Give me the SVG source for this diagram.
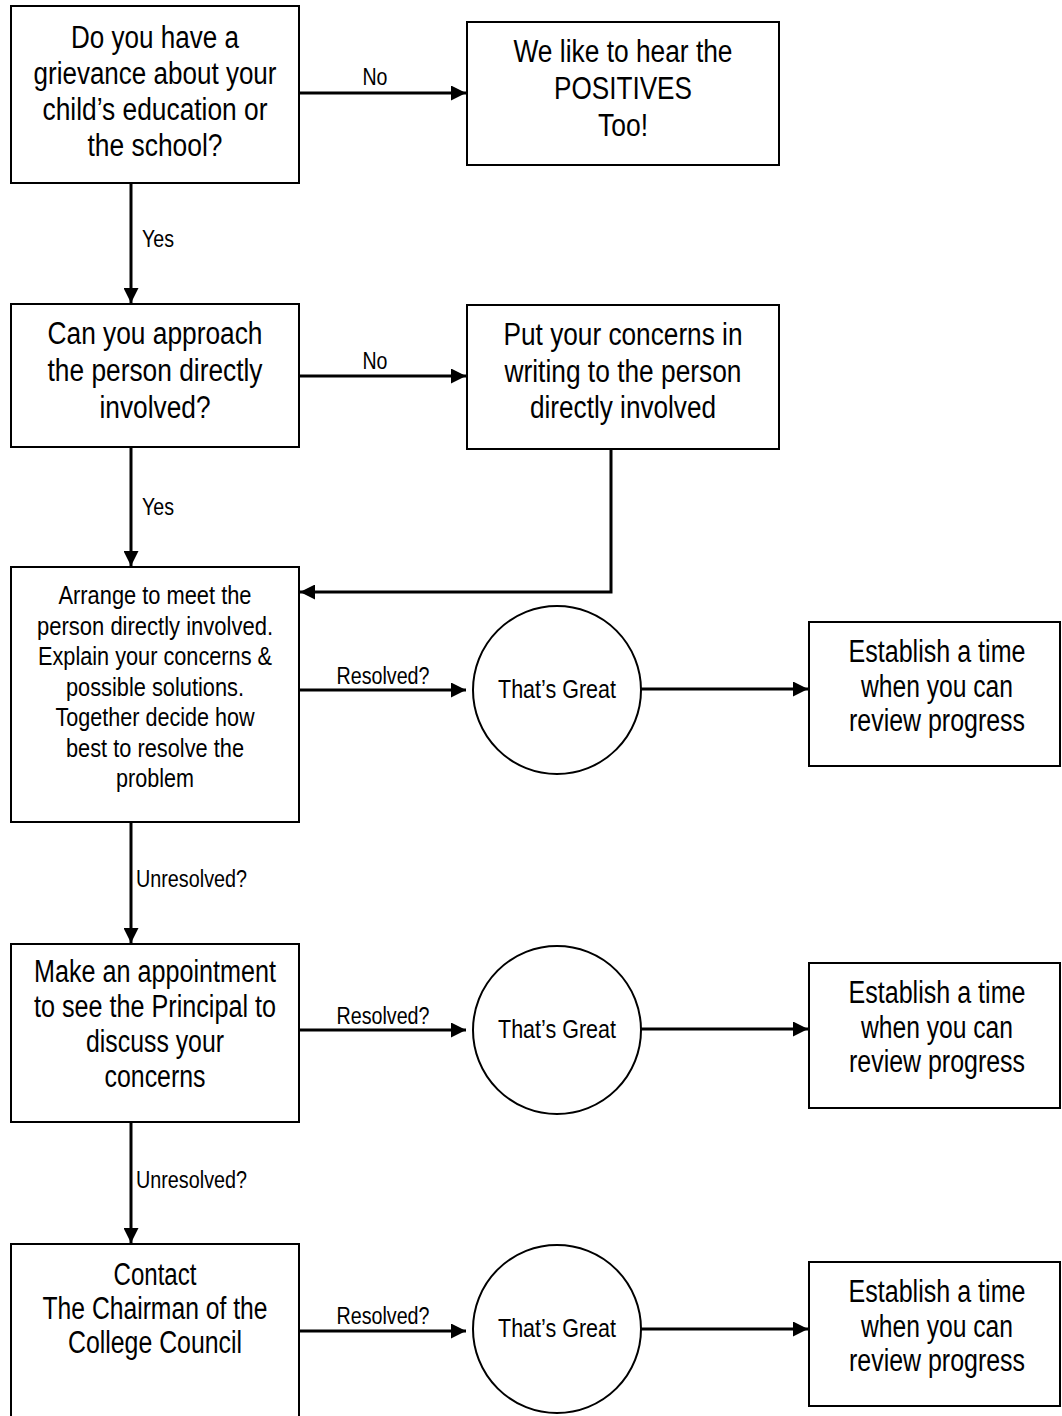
<svg xmlns="http://www.w3.org/2000/svg" width="1062" height="1416" viewBox="0 0 1062 1416">
<style>
.box{fill:#fff;stroke:#000;stroke-width:2}
text{font-family:"Liberation Sans",Arial,sans-serif;fill:#000;text-anchor:middle}
.big{font-size:31px}
.mid{font-size:26px}
.lbl{font-size:23.5px}
.ls{text-anchor:start}
.c{fill:none;stroke:#000;stroke-width:3}
</style>
<defs>
<marker id="ah" viewBox="0 0 10 10" refX="10" refY="5" markerWidth="5" markerHeight="5" markerUnits="strokeWidth" orient="auto">
<path d="M0,0 L10,5 L0,10 z" fill="#000"/>
</marker>
</defs>
<g id="connectors">
<line class="c" x1="299" y1="93" x2="466" y2="93" marker-end="url(#ah)"/>
<text class="lbl" x="375" y="85" textLength="25" lengthAdjust="spacingAndGlyphs">No</text>
<line class="c" x1="131" y1="184" x2="131" y2="303" marker-end="url(#ah)"/>
<text class="lbl ls" x="142" y="247" textLength="32" lengthAdjust="spacingAndGlyphs">Yes</text>
<line class="c" x1="299" y1="376" x2="466" y2="376" marker-end="url(#ah)"/>
<text class="lbl" x="375" y="369" textLength="25" lengthAdjust="spacingAndGlyphs">No</text>
<line class="c" x1="131" y1="448" x2="131" y2="566" marker-end="url(#ah)"/>
<text class="lbl ls" x="142" y="515" textLength="32" lengthAdjust="spacingAndGlyphs">Yes</text>
<polyline class="c" points="611,450 611,592 300,592" marker-end="url(#ah)"/>
<line class="c" x1="299" y1="690" x2="466" y2="690" marker-end="url(#ah)"/>
<text class="lbl" x="383" y="684" textLength="93" lengthAdjust="spacingAndGlyphs">Resolved?</text>
<line class="c" x1="641" y1="689" x2="808" y2="689" marker-end="url(#ah)"/>
<line class="c" x1="131" y1="823" x2="131" y2="943" marker-end="url(#ah)"/>
<text class="lbl ls" x="136" y="887" textLength="111" lengthAdjust="spacingAndGlyphs">Unresolved?</text>
<line class="c" x1="299" y1="1030" x2="466" y2="1030" marker-end="url(#ah)"/>
<text class="lbl" x="383" y="1024" textLength="93" lengthAdjust="spacingAndGlyphs">Resolved?</text>
<line class="c" x1="641" y1="1029" x2="808" y2="1029" marker-end="url(#ah)"/>
<line class="c" x1="131" y1="1123" x2="131" y2="1243" marker-end="url(#ah)"/>
<text class="lbl ls" x="136" y="1188" textLength="111" lengthAdjust="spacingAndGlyphs">Unresolved?</text>
<line class="c" x1="299" y1="1331" x2="466" y2="1331" marker-end="url(#ah)"/>
<text class="lbl" x="383" y="1324" textLength="93" lengthAdjust="spacingAndGlyphs">Resolved?</text>
<line class="c" x1="641" y1="1329" x2="808" y2="1329" marker-end="url(#ah)"/>
</g>
<g id="q1">
<rect class="box" x="11" y="6" width="288" height="177"/>
<text class="big" x="155" y="48" textLength="168" lengthAdjust="spacingAndGlyphs">Do you have a</text>
<text class="big" x="155" y="84" textLength="243" lengthAdjust="spacingAndGlyphs">grievance about your</text>
<text class="big" x="155" y="120" textLength="225" lengthAdjust="spacingAndGlyphs">child’s education or</text>
<text class="big" x="155" y="156" textLength="135" lengthAdjust="spacingAndGlyphs">the school?</text>
</g>
<g id="positives">
<rect class="box" x="467" y="22" width="312" height="143"/>
<text class="big" x="623" y="62" textLength="219" lengthAdjust="spacingAndGlyphs">We like to hear the</text>
<text class="big" x="623" y="99" textLength="138" lengthAdjust="spacingAndGlyphs">POSITIVES</text>
<text class="big" x="623" y="136" textLength="50" lengthAdjust="spacingAndGlyphs">Too!</text>
</g>
<g id="q2">
<rect class="box" x="11" y="304" width="288" height="143"/>
<text class="big" x="155" y="344" textLength="215" lengthAdjust="spacingAndGlyphs">Can you approach</text>
<text class="big" x="155" y="381" textLength="215" lengthAdjust="spacingAndGlyphs">the person directly</text>
<text class="big" x="155" y="418" textLength="111" lengthAdjust="spacingAndGlyphs">involved?</text>
</g>
<g id="writing">
<rect class="box" x="467" y="305" width="312" height="144"/>
<text class="big" x="623" y="345" textLength="239" lengthAdjust="spacingAndGlyphs">Put your concerns in</text>
<text class="big" x="623" y="382" textLength="237" lengthAdjust="spacingAndGlyphs">writing to the person</text>
<text class="big" x="623" y="418" textLength="186" lengthAdjust="spacingAndGlyphs">directly involved</text>
</g>
<g id="meet">
<rect class="box" x="11" y="567" width="288" height="255"/>
<text class="mid" x="155" y="604" textLength="193" lengthAdjust="spacingAndGlyphs">Arrange to meet the</text>
<text class="mid" x="155" y="635" textLength="236" lengthAdjust="spacingAndGlyphs">person directly involved.</text>
<text class="mid" x="155" y="665" textLength="234" lengthAdjust="spacingAndGlyphs">Explain your concerns &amp;</text>
<text class="mid" x="155" y="696" textLength="178" lengthAdjust="spacingAndGlyphs">possible solutions.</text>
<text class="mid" x="155" y="726" textLength="199" lengthAdjust="spacingAndGlyphs">Together decide how</text>
<text class="mid" x="155" y="757" textLength="178" lengthAdjust="spacingAndGlyphs">best to resolve the</text>
<text class="mid" x="155" y="787" textLength="78" lengthAdjust="spacingAndGlyphs">problem</text>
</g>
<g id="great1">
<circle class="box" cx="557" cy="690" r="84"/>
<text class="mid" x="557" y="698" textLength="118" lengthAdjust="spacingAndGlyphs">That’s Great</text>
</g>
<g id="review1">
<rect class="box" x="809" y="622" width="251" height="144"/>
<text class="big" x="937" y="662" textLength="177" lengthAdjust="spacingAndGlyphs">Establish a time</text>
<text class="big" x="937" y="697" textLength="152" lengthAdjust="spacingAndGlyphs">when you can</text>
<text class="big" x="937" y="731" textLength="176" lengthAdjust="spacingAndGlyphs">review progress</text>
</g>
<g id="principal">
<rect class="box" x="11" y="944" width="288" height="178"/>
<text class="big" x="155" y="982" textLength="242" lengthAdjust="spacingAndGlyphs">Make an appointment</text>
<text class="big" x="155" y="1017" textLength="242" lengthAdjust="spacingAndGlyphs">to see the Principal to</text>
<text class="big" x="155" y="1052" textLength="138" lengthAdjust="spacingAndGlyphs">discuss your</text>
<text class="big" x="155" y="1087" textLength="101" lengthAdjust="spacingAndGlyphs">concerns</text>
</g>
<g id="great2">
<circle class="box" cx="557" cy="1030" r="84"/>
<text class="mid" x="557" y="1038" textLength="118" lengthAdjust="spacingAndGlyphs">That’s Great</text>
</g>
<g id="review2">
<rect class="box" x="809" y="963" width="251" height="145"/>
<text class="big" x="937" y="1003" textLength="177" lengthAdjust="spacingAndGlyphs">Establish a time</text>
<text class="big" x="937" y="1038" textLength="152" lengthAdjust="spacingAndGlyphs">when you can</text>
<text class="big" x="937" y="1072" textLength="176" lengthAdjust="spacingAndGlyphs">review progress</text>
</g>
<g id="chairman">
<rect class="box" x="11" y="1244" width="288" height="200"/>
<text class="big" x="155" y="1285" textLength="83" lengthAdjust="spacingAndGlyphs">Contact</text>
<text class="big" x="155" y="1319" textLength="225" lengthAdjust="spacingAndGlyphs">The Chairman of the</text>
<text class="big" x="155" y="1353" textLength="174" lengthAdjust="spacingAndGlyphs">College Council</text>
</g>
<g id="great3">
<circle class="box" cx="557" cy="1329" r="84"/>
<text class="mid" x="557" y="1337" textLength="118" lengthAdjust="spacingAndGlyphs">That’s Great</text>
</g>
<g id="review3">
<rect class="box" x="809" y="1262" width="251" height="144"/>
<text class="big" x="937" y="1302" textLength="177" lengthAdjust="spacingAndGlyphs">Establish a time</text>
<text class="big" x="937" y="1337" textLength="152" lengthAdjust="spacingAndGlyphs">when you can</text>
<text class="big" x="937" y="1371" textLength="176" lengthAdjust="spacingAndGlyphs">review progress</text>
</g>
</svg>
